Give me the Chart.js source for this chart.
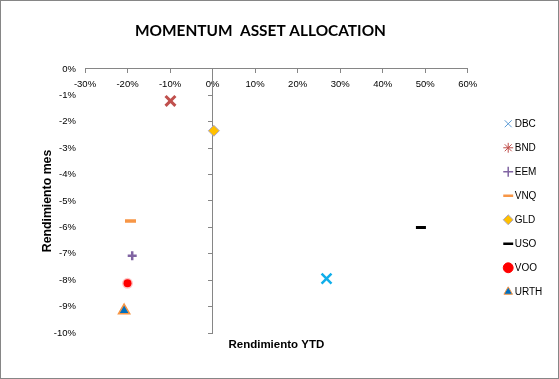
<!DOCTYPE html>
<html><head><meta charset="utf-8">
<script src="https://cdn.jsdelivr.net/npm/chart.js@4.4.1/dist/chart.umd.min.js"></script>
<style>
html,body{margin:0;padding:0;background:#fff;}
#wrap{width:559px;height:379px;box-sizing:border-box;border:1px solid #868686;background:#fff;}
canvas{display:block;}
</style></head><body>
<div id="wrap"><canvas id="c" width="557" height="377"></canvas></div>
<script>
// ---- data ----
const chartTitle = 'MOMENTUM  ASSET ALLOCATION';
const xAxisTitle = 'Rendimiento YTD';
const yAxisTitle = 'Rendimiento mes';
const assets = ['DBC', 'BND', 'EEM', 'VNQ', 'GLD', 'USO', 'VOO', 'URTH'];
const ytdReturn = [26.8, -9.9, -18.9, -19.3, 0.3, 49.0, -20.0, -20.8];      // %
const monthReturn = [-7.94, -1.21, -7.07, -5.76, -2.34, -6.0, -8.12, -9.15]; // %
const xTickValues = [-30, -20, -10, 0, 10, 20, 30, 40, 50, 60];
const yTickValues = [0, -1, -2, -3, -4, -5, -6, -7, -8, -9, -10];
const pct = v => v + '%';

// ---- styles ----
const pStyles = ['crossRot', 'crossRot', 'cross', 'line', 'rectRot', 'line', 'circle', 'triangle'];
const legendStyles = ['crossRot', 'star', 'cross', 'line', 'rectRot', 'line', 'circle', 'triangle'];
const pRadius = [7, 7, 4.5, 5.5, 5.5, 5, 4, 6.5];
const pFill = ['#10AEEA', '#C0504D', '#8064A2', '#F79646', '#FFC000', '#000000', '#FF0000', '#0070C0'];
const pStroke = ['#10AEEA', '#C0504D', '#8064A2', '#F79646', '#A9A4C6', '#000000', 'rgba(255,0,0,0.22)', '#F79646'];
const pWidth = [2.5, 3, 2.5, 3.5, 1, 3, 3, 1.5];
const legendStroke = ['#5B9BD5', '#C0504D', '#8064A2', '#F79646', '#A9A4C6', '#000000', '#FF0000', '#F79646'];
const legendWidth = [1, 1, 1.5, 2.5, 1, 2.5, 1, 1];

Chart.defaults.font.family = "'Liberation Sans', Arial, sans-serif";
Chart.defaults.color = '#000';

const axisGray = '#868686';
const tickFont = {size: 9.5};

// keep the library title box, but centre it over the left part of the canvas like the original
const titleBox = {
  id: 'titleBox',
  afterLayout(chart) {
    const t = chart.titleBlock;
    if (t) { t.right = t.left + 519; t.width = 519; }
  }
};

new Chart(document.getElementById('c'), {
  type: 'scatter',
  plugins: [titleBox],
  data: {
    datasets: assets.map((name, i) => ({
      label: name,
      data: [{x: ytdReturn[i], y: monthReturn[i]}],
      xAxisID: 'x',
      yAxisID: 'y',
      pointStyle: pStyles[i],
      pointRadius: pRadius[i],
      pointHoverRadius: pRadius[i],
      pointBackgroundColor: pFill[i],
      pointBorderColor: pStroke[i],
      pointBorderWidth: pWidth[i],
      pointHoverBorderWidth: pWidth[i],
      backgroundColor: pFill[i],
      borderColor: pStroke[i],
      showLine: false
    }))
  },
  options: {
    responsive: false,
    animation: false,
    events: [],
    layout: {padding: {left: 0, right: 5.7, top: 0, bottom: 0}},
    plugins: {
      title: {
        display: true, text: chartTitle, color: '#000',
        font: {family: 'Lato', size: 15.4, weight: 'bold'},
        padding: {top: 20.3, bottom: 29.2}
      },
      legend: {
        position: 'right', align: 'start', fullSize: false,
        title: {display: true, text: ' ', padding: {top: 21.4, bottom: 0}, font: {size: 12}},
        labels: {
          usePointStyle: true, boxWidth: 3, boxHeight: 7, padding: 14, color: '#000',
          font: {size: 10},
          generateLabels(chart) {
            const items = Chart.defaults.plugins.legend.labels.generateLabels(chart);
            items.forEach((it, i) => {
              it.pointStyle = legendStyles[i];
              it.lineWidth = legendWidth[i];
              it.strokeStyle = legendStroke[i];
            });
            return items;
          }
        }
      },
      tooltip: {enabled: false}
    },
    scales: {
      x: {
        type: 'linear', axis: 'x', position: 'bottom',
        min: xTickValues[0], max: xTickValues[xTickValues.length - 1],
        ticks: {display: false},
        grid: {display: false, drawTicks: false},
        border: {display: false},
        title: {display: true, text: xAxisTitle, color: '#000', font: {size: 11.5, weight: 'bold'}, padding: {top: 0, bottom: 26.1}},
        afterFit: s => { s.height = 45; }
      },
      y: {
        type: 'linear', axis: 'y', position: 'left',
        min: yTickValues[yTickValues.length - 1], max: yTickValues[0],
        afterBuildTicks: s => { s.ticks = yTickValues.map(v => ({value: v})); },
        ticks: {padding: 9, color: '#000', font: tickFont, callback: pct},
        grid: {display: false, drawTicks: false},
        border: {display: false},
        title: {display: true, text: yAxisTitle, color: '#000', font: {size: 12.3, weight: 'bold'}, padding: {top: 38.8, bottom: 0}},
        afterFit: s => { s.width = 84; }
      },
      xTop: {
        type: 'linear', axis: 'x', position: {y: 0},
        min: xTickValues[0], max: xTickValues[xTickValues.length - 1],
        afterBuildTicks: s => { s.ticks = xTickValues.map(v => ({value: v})); },
        ticks: {padding: 5.3, color: '#000', font: tickFont, callback: pct, maxRotation: 0, autoSkip: false},
        grid: {drawOnChartArea: false, drawTicks: true, tickLength: 4, color: axisGray},
        border: {display: true, color: axisGray, width: 1}
      },
      yMid: {
        type: 'linear', axis: 'y', position: {x: 0},
        min: yTickValues[yTickValues.length - 1], max: yTickValues[0],
        afterBuildTicks: s => { s.ticks = yTickValues.map(v => ({value: v})); },
        ticks: {display: false},
        grid: {drawOnChartArea: false, drawTicks: true, tickLength: 4, color: axisGray},
        border: {display: true, color: axisGray, width: 1}
      },
      yPad: {
        type: 'linear', axis: 'y', position: 'right', display: true,
        ticks: {display: false},
        grid: {display: false, drawTicks: false},
        border: {display: false},
        afterFit: s => { s.width = 25; }
      }
    }
  }
});
</script>
</body></html>
